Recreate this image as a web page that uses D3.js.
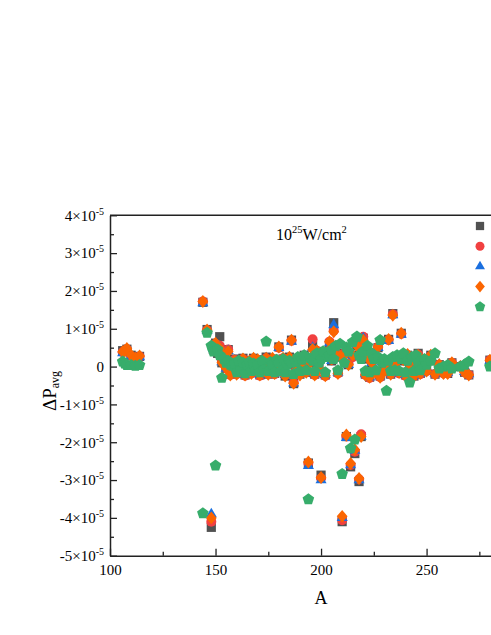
<!DOCTYPE html>
<html>
<head>
<meta charset="utf-8">
<script src="https://cdn.jsdelivr.net/npm/d3@7"></script>
<style>
  body { margin: 0; background: #fff; }
  text { font-family: "Liberation Serif", "Times New Roman", serif; fill: #000; }
</style>
</head>
<body>
<div id="main"></div>
<script>
// mass number A (shared by all five series)
const massA = [106,107,108,110,112,114,144,146,148,149,
  150,151,152,153,154,155,156,157,158,159,
  160,161,162,163,164,165,166,167,168,169,
  170,171,172,173,174,175,176,177,178,179,
  180,181,182,183,184,185,186,187,188,189,
  190,191,192,193,194,195,196,197,198,199,
  200,201,202,203,204,205,206,207,208,209,
  210,211,212,213,214,215,216,217,218,219,
  220,221,222,223,224,225,226,227,228,229,
  230,231,232,233,234,235,236,237,238,239,
  240,241,242,243,244,245,246,247,249,250,
  252,254,256,258,260,262,266,268,270,280];

// delta P_avg, in units of 1e-5
const dpGray = [.42,.40,.46,.30,.22,.27,1.70,.98,-4.25,.45,
  .62,.35,.79,.10,.30,-.05,.45,-.20,.05,.20,
  -.18,.10,-.10,.22,-.22,.08,.15,-.15,.22,-.05,
  .18,-.22,.10,-.12,.25,-.20,.05,.20,-.18,.10,
  .52,-.10,.20,-.25,.08,.25,.70,-.45,-.10,.15,
  -.20,.05,.30,-.15,-2.55,.10,.55,-.20,.40,-.05,
  -2.87,.25,-.22,.35,.60,.15,1.16,.40,-.15,.25,
  -4.10,.35,-1.85,.05,-2.65,.30,-2.30,.55,-3.04,-1.85,
  .75,-.20,.20,-.28,.10,.30,-.15,.50,-.25,.15,
  -.10,.10,.72,-.20,1.40,.05,.25,-.15,.88,.15,
  -.22,.30,-.05,.20,-.25,.10,.35,-.18,.15,-.10,
  .30,-.20,.05,-.15,-.18,.10,.00,-.15,-.22,.17];

const dpRed = [.38,.42,.46,.28,.20,.27,1.72,.96,-4.10,.50,
  .60,.40,.55,.15,.35,-.05,.45,-.22,.08,.18,
  -.20,.12,-.12,.20,-.24,.10,.12,-.18,.20,-.05,
  .16,-.24,.08,-.12,.22,-.20,.06,.18,-.20,.10,
  .50,-.12,.22,-.22,.10,.22,.68,-.42,-.12,.18,
  -.20,.05,.28,-.15,-2.55,.12,.72,-.22,.42,-.08,
  -2.95,.28,-.25,.40,.66,.18,.95,.38,-.18,.30,
  -4.06,.35,-1.85,.08,-2.60,.25,-2.25,.60,-2.98,-1.79,
  .79,-.22,.25,-.30,.12,.32,-.15,.52,-.28,.15,
  -.12,.10,.70,-.20,1.38,.08,.25,-.18,.86,.18,
  -.25,.30,-.05,.22,-.25,.10,.32,-.20,.15,-.12,
  .28,-.20,.05,-.18,-.18,.10,.00,-.15,-.22,.17];

const dpBlue = [.36,.40,.44,.27,.19,.25,1.68,.95,-3.90,.48,
  .58,.38,.50,.12,.32,-.05,.42,-.21,.06,.16,
  -.18,.10,-.10,.18,-.22,.08,.12,-.16,.20,-.04,
  .15,-.22,.08,-.10,.22,-.18,.05,.18,-.18,.08,
  .50,-.10,.20,-.22,.10,.22,.66,-.44,-.10,.16,
  -.18,.04,.26,-.14,-2.62,.10,.50,-.20,.40,-.06,
  -3.00,.25,-.22,.38,.62,.15,1.10,.35,-.15,.28,
  -4.00,.32,-1.88,.05,-2.60,.28,-2.22,.58,-3.00,-1.85,
  .75,-.20,.22,-.28,.10,.30,-.14,.50,-.25,.12,
  -.10,.10,.68,-.18,1.36,.05,.22,-.15,.85,.15,
  -.22,.28,-.04,.20,-.24,.08,.30,-.18,.12,-.10,
  .28,-.18,.05,-.15,-.16,.08,.00,-.14,-.20,.15];

const dpOrange = [.39,.42,.48,.30,.22,.28,1.72,.97,-4.00,.50,
  .62,.42,.48,.10,.28,-.04,.40,-.22,.05,.15,
  -.20,.10,-.12,.20,-.22,.10,.14,-.18,.22,-.05,
  .18,-.22,.10,-.12,.22,-.20,.05,.22,-.18,.10,
  .52,-.10,.22,-.25,.08,.25,.70,-.44,-.12,.18,
  -.22,.05,.28,-.15,-2.52,.12,.45,-.22,.42,-.05,
  -2.93,.30,-.24,.38,.66,.20,.92,.30,-.18,.28,
  -3.96,.30,-1.81,.05,-2.56,.30,-2.20,.55,-2.96,-1.85,
  .70,-.22,.25,-.28,.10,.30,-.15,.52,-.28,.15,
  -.12,.10,.72,-.20,1.36,.05,.28,-.15,.88,.18,
  -.22,.32,-.05,.22,-.25,.10,.30,-.18,.15,-.12,
  .30,-.20,.05,-.18,-.18,.10,.00,-.15,-.22,.17];

const dpGreen = [.13,.08,.04,.04,.02,.04,-3.88,.89,.55,.40,
  -2.62,.45,.30,-.30,.20,.10,.15,.05,.02,.08,
  -.15,.15,-.10,.10,-.18,.05,.12,-.12,.08,-.10,
  .05,-.15,.15,-.08,.66,-.12,.12,.05,-.15,.18,
  .10,-.12,.20,-.15,.05,.15,.10,-.20,.12,.25,
  -.12,.18,.30,-.10,-3.51,.22,.15,-.12,.35,.10,
  .20,.40,-.15,.25,.30,.45,.20,.55,-.10,.60,
  -2.84,.10,.50,.40,-2.16,.65,-1.93,.79,.30,.20,
  .40,-.12,.55,-.15,.35,.20,-.10,.25,.70,.10,
  .20,-.64,.15,-.12,.25,-.10,.30,-.12,.20,.35,
  -.15,.15,-.42,.25,-.12,.30,.10,-.10,.20,.05,
  .15,.35,-.05,.00,.04,-.05,.00,.05,.13,.00];

const yTicks = [4, 3, 2, 1, 0, -1, -2, -3, -4, -5];
const xTicks = [100, 150, 200, 250];

function main() {
  const svgWidth = 491;
  const svgHeight = 635;
  const plotLeft = 110, plotRight = 511, plotTop = 215.3, plotBottom = 555.7;
  const axisColor = "#222";

  const seriesColors = ["#515151", "#F14040", "#1A6FDF", "#FB6501", "#37AD6B"];
  const seriesValues = [dpGray, dpRed, dpBlue, dpOrange, dpGreen];

  // custom marker shapes, "size" is used as the radius
  const square = { draw(ctx, r) { ctx.rect(-r, -r, 2 * r, 2 * r); } };
  const circle = { draw(ctx, r) { ctx.moveTo(r, 0); ctx.arc(0, 0, r, 0, 2 * Math.PI); } };
  const triangle = { draw(ctx, r) {
    ctx.moveTo(0, -r);
    ctx.lineTo(r * 0.866, r * 0.5);
    ctx.lineTo(-r * 0.866, r * 0.5);
    ctx.closePath();
  } };
  const diamond = { draw(ctx, r) {
    ctx.moveTo(0, -r * 1.2);
    ctx.lineTo(r, 0);
    ctx.lineTo(0, r * 1.2);
    ctx.lineTo(-r, 0);
    ctx.closePath();
  } };
  const pentagon = { draw(ctx, r) {
    for (let k = 0; k < 5; k++) {
      const a = -Math.PI / 2 + k * 2 * Math.PI / 5;
      if (k == 0) ctx.moveTo(r * Math.cos(a), r * Math.sin(a));
      else ctx.lineTo(r * Math.cos(a), r * Math.sin(a));
    }
    ctx.closePath();
  } };
  const shapes = [square, circle, triangle, diamond, pentagon];
  const shapeSize = [4.6, 5, 6.4, 5.4, 6.1];

  var svg = d3
    .select("#main")
    .append("svg")
    .attr("width", svgWidth)
    .attr("height", svgHeight);

  // scales
  var scaleX = d3.scaleLinear().domain([100, 290]).range([plotLeft, plotRight]);
  var scaleY = d3.scaleLinear().domain([-5, 4]).range([plotBottom, plotTop]);

  // ------------  POINTS  ------------
  seriesValues.forEach((vals, s) => {
    const sym = d3.symbol().type(shapes[s]).size(shapeSize[s]);
    svg.append("g")
      .selectAll("path")
      .data(massA)
      .enter()
      .append("path")
      .attr("d", sym)
      .attr("transform", (d, i) => "translate(" + scaleX(d) + "," + scaleY(vals[i]) + ")")
      .attr("fill", seriesColors[s]);
  });

  // ------------  AXIS  ------------
  var yAxis = d3.axisLeft(scaleY)
    .tickValues(yTicks)
    .tickSizeInner(-7)
    .tickSizeOuter(0)
    .tickPadding(6);

  svg.append("g")
    .attr("transform", "translate(" + plotLeft + ",0)")
    .call(yAxis)
    .call(g => {
      g.select(".domain").attr("stroke", axisColor).attr("stroke-width", 1.5);
      g.selectAll(".tick line").attr("stroke", axisColor).attr("stroke-width", 1.3);
      g.selectAll(".tick text")
        .attr("font-size", 15)
        .attr("font-family", "'Liberation Serif', 'Times New Roman', serif")
        .each(function (d) {
          const t = d3.select(this).text(null);
          if (d == 0) { t.append("tspan").text("0"); return; }
          t.append("tspan").text(d + "\u00d710");
          t.append("tspan").attr("font-size", 10).attr("dy", -6).text("-5");
        });
    });

  // minor y ticks
  svg.append("g")
    .attr("transform", "translate(" + plotLeft + ",0)")
    .call(d3.axisLeft(scaleY).tickValues(d3.range(-4.5, 4, 1)).tickSizeInner(-4).tickSizeOuter(0).tickFormat(""))
    .call(g => {
      g.select(".domain").remove();
      g.selectAll(".tick line").attr("stroke", axisColor).attr("stroke-width", 1.3);
    });

  var xAxis = d3.axisBottom(scaleX)
    .tickValues(xTicks)
    .tickSizeInner(-7)
    .tickSizeOuter(0)
    .tickPadding(9);

  svg.append("g")
    .attr("transform", "translate(0," + plotBottom + ")")
    .call(xAxis)
    .call(g => {
      g.select(".domain").attr("stroke", axisColor).attr("stroke-width", 1.5);
      g.selectAll(".tick line").attr("stroke", axisColor).attr("stroke-width", 1.3);
      g.selectAll(".tick text")
        .attr("font-size", 15)
        .attr("font-family", "'Liberation Serif', 'Times New Roman', serif");
    });

  svg.append("g")
    .attr("transform", "translate(0," + plotBottom + ")")
    .call(d3.axisBottom(scaleX).tickValues([125, 175, 225, 275]).tickSizeInner(-4).tickSizeOuter(0).tickFormat(""))
    .call(g => {
      g.select(".domain").remove();
      g.selectAll(".tick line").attr("stroke", axisColor).attr("stroke-width", 1.3);
    });

  // frame top + right
  svg.append("path")
    .attr("d", "M" + plotLeft + "," + plotTop + "H" + plotRight + "V" + plotBottom)
    .attr("fill", "none")
    .attr("stroke", axisColor)
    .attr("stroke-width", 1.5);

  // ------------  LABELS  ------------
  svg.append("text")
    .attr("x", scaleX(200))
    .attr("y", 604)
    .attr("text-anchor", "middle")
    .attr("font-size", 18)
    .text("A");

  var yLabel = svg.append("text")
    .attr("transform", "rotate(-90)")
    .attr("x", -411)
    .attr("y", 56)
    .attr("font-size", 19);
  yLabel.append("tspan").text("\u0394P");
  yLabel.append("tspan").attr("font-size", 12).attr("dy", 3).text("avg");

  var title = svg.append("text")
    .attr("x", 276)
    .attr("y", 240)
    .attr("font-size", 16);
  title.append("tspan").text("10");
  title.append("tspan").attr("font-size", 10.5).attr("dy", -7).text("25");
  title.append("tspan").attr("dy", 7).text("W/cm");
  title.append("tspan").attr("font-size", 10.5).attr("dy", -7).text("2");

  // legend (labels fall outside the picture)
  const legX = 480, legY0 = 226, legDy = 20.2;
  seriesColors.forEach((c, s) => {
    svg.append("path")
      .attr("d", d3.symbol().type(shapes[s]).size(shapeSize[s] * 0.9)())
      .attr("transform", "translate(" + legX + "," + (legY0 + legDy * s) + ")")
      .attr("fill", c);
  });
}

main();
</script>
</body>
</html>
